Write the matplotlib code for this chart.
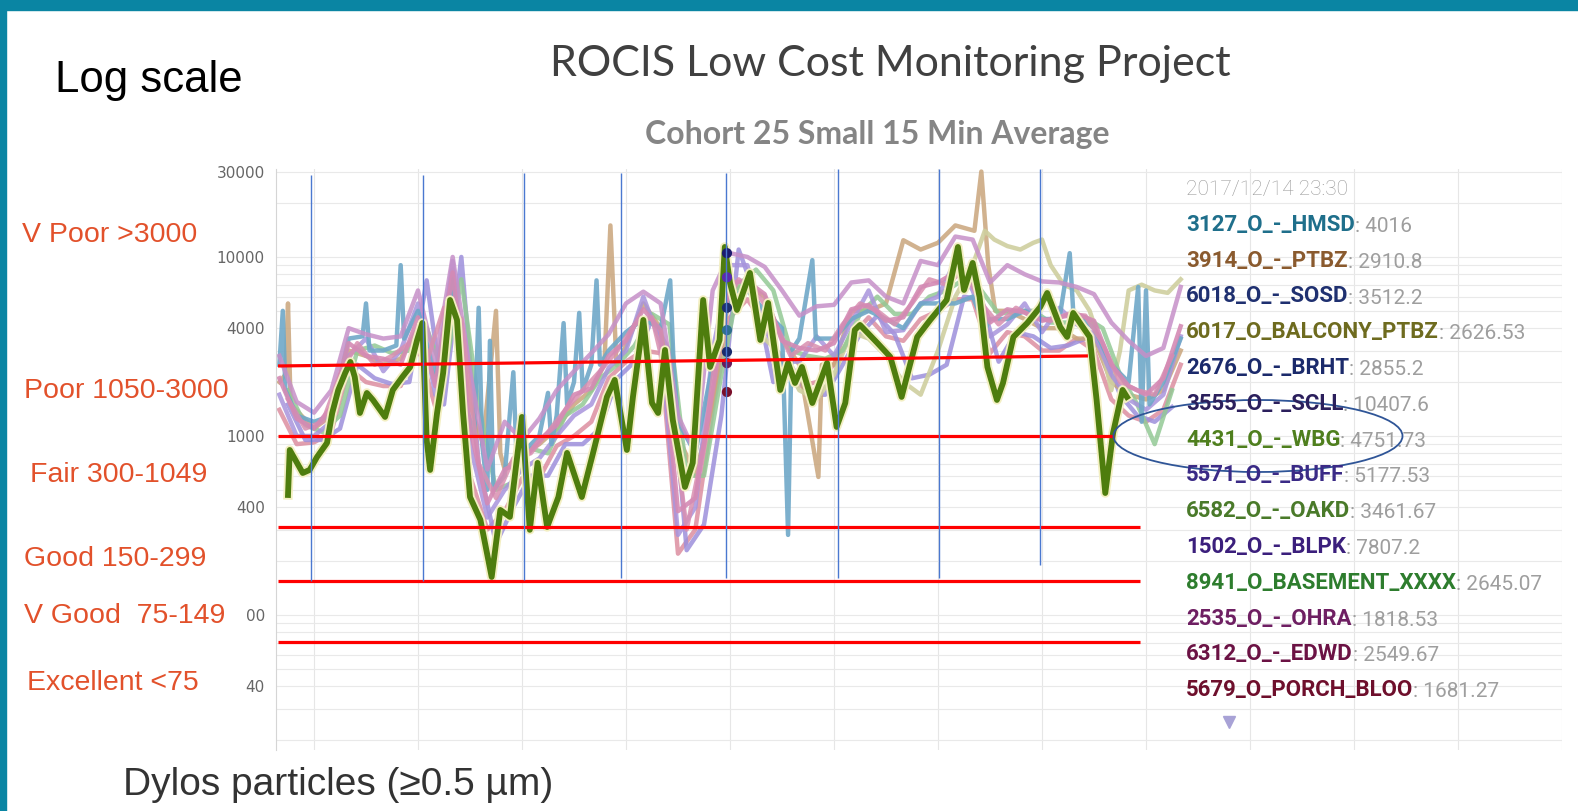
import numpy as np
import matplotlib
matplotlib.use("Agg")
import matplotlib.pyplot as plt
from matplotlib.patches import Rectangle, Ellipse
import matplotlib.patheffects as pe
from matplotlib.ticker import LogLocator, NullFormatter, FixedLocator, FixedFormatter

# ---------------- data ----------------
# hours relative to first 12-h grid line
t_even = np.arange(-4, 101, 2)
t_odd = np.arange(-3, 100, 2)

pink_a = [2100, 1250, 1100, 1450, 3300, 2800, 2700, 2500, 4600, 1900,
          8200, 1100, 420, 650, 720, 950, 1150, 1700, 1850, 2800,
          3400, 5100, 3900, 380, 450, 1800, 7200, 7300, 6200, 3400,
          3100, 3000, 3300, 5100, 5400, 4400, 4600, 6800, 7200, 8200,
          7800, 4300, 5100, 4900, 4400, 4600, 4800, 4400, 2500, 1900,
          1700, 2100, 4100]
mauve_b = [2800, 1550, 1350, 1800, 4000, 3700, 3500, 3600, 6500, 2600,
           10000, 2300, 650, 1200, 950, 1250, 1800, 2300, 2900, 3700,
           5500, 6400, 5500, 1300, 800, 6500, 10500, 10000, 8800, 6500,
           4700, 5300, 5400, 7200, 7400, 6000, 5500, 9500, 9000, 13000,
           12500, 7200, 9000, 8000, 7300, 7200, 6800, 6200, 4300, 3400,
           2800, 3100, 6800]
lav_d = [1700, 1000, 1000, 1200, 2800, 3500, 2300, 3000, 5500, 1700,
         9500, 900, 350, 500, 650, 750, 1000, 1300, 1500, 2400,
         3000, 6000, 3300, 280, 400, 3000, 9000, 9000, 4000, 2600,
         2600, 3600, 2800, 4300, 6500, 3800, 3900, 5500, 6000, 9500,
         6500, 3600, 4200, 5500, 3800, 5200, 4200, 3700, 2200, 1600,
         1400, 1700, 3600]
rose_h = [1400, 900, 920, 1050, 2400, 2000, 1900, 1900, 3200, 1450,
          6500, 600, 300, 380, 580, 580, 880, 1000, 1200, 2100,
          2600, 3000, 2900, 220, 300, 1400, 4600, 5800, 4200, 2500,
          1900, 2000, 2500, 3600, 4600, 3600, 3400, 4500, 5000, 5800,
          5800, 2900, 3800, 3600, 3000, 3000, 3500, 3000, 1600, 1300,
          1200, 1400, 2500]
# series sampled on odd hours (-3 .. 99)
purple_c = [1500, 950, 950, 1100, 2500, 2100, 1950, 2000, 7400, 1500,
            10000, 700, 250, 400, 600, 600, 900, 900, 1100, 2100,
            2600, 4500, 3000, 230, 320, 1300, 11000, 6000, 2000, 2500,
            1700, 1700, 2500, 3700, 4700, 3700, 2100, 2200, 2500, 6000,
            5800, 2600, 3800, 3600, 3100, 3200, 3500, 3100, 1700, 1300,
            1200, 1450]
green_e = [1800, 1150, 1050, 1300, 3000, 3200, 2900, 3000, 4000, 2200,
           7500, 1500, 500, 550, 850, 800, 1300, 1500, 2100, 2500,
           3200, 4800, 4200, 600, 600, 2200, 7000, 8500, 6500, 3000,
           2800, 2700, 3000, 4800, 6000, 4800, 4800, 6000, 6500, 7500,
           6500, 4800, 5000, 5000, 4300, 4300, 4600, 4000, 2200, 1500,
           900, 1800]
pink_f = [1600, 1100, 1200, 2200, 3300, 2500, 2800, 3300, 2600, 5200,
          4500, 700, 450, 750, 800, 1050, 1400, 1800, 2300, 3000,
          4200, 4600, 1800, 300, 900, 5000, 7500, 6500, 4500, 2800,
          3300, 3000, 4200, 5500, 5000, 4200, 5500, 7500, 7000, 8500,
          5500, 4200, 5200, 4600, 4400, 4800, 4700, 3300, 2000, 1800,
          1700, 2800]

teal_t = [-4, -3.6, -3.3, -2, 0, 2, 4, 5.6, 6, 6.4, 8, 9.5, 10, 10.4, 12, 14, 16,
          17.5, 18.5, 19, 19.4, 20, 20.3, 20.7, 22, 23, 23.4, 24, 26, 27, 27.4, 28,
          28.8, 29.2, 30, 30.6, 31, 32, 32.6, 33, 34, 36, 38, 40, 41.1, 41.5, 42, 44,
          46, 48, 50, 52, 54, 54.7, 55.1, 56, 57.5, 57.9, 60, 62, 64, 66, 68, 70, 72,
          74, 76, 77.5, 78, 80, 82, 84, 86, 87.2, 87.6, 90, 92, 94, 95.1, 95.5, 96.0,
          96.4, 98, 100]
teal_v = [2500, 5000, 1800, 1300, 1200, 1300, 3500, 3600, 5500, 3000, 3000, 3200,
          9000, 3500, 5000, 2200, 7500, 1500, 1000, 5200, 900, 500, 3400, 500, 600,
          2270, 700, 800, 1000, 1740, 900, 1300, 4270, 1500, 2000, 4870, 1800, 2500,
          7400, 2500, 3000, 3800, 4500, 4000, 7400, 2500, 1200, 800, 2500, 6000, 6500,
          5000, 4000, 280, 3000, 3500, 9600, 3500, 3500, 4500, 5000, 4500, 4000, 5500,
          5500, 5500, 6000, 4000, 4500, 4500, 5000, 4500, 4500, 10500, 5000, 4000,
          2500, 2000, 6800, 1200, 6500, 1500, 2000, 3500]

tan_t = [-4, -3.3, -3.0, -2.7, 0, 2, 4, 6, 8, 10, 12, 14, 16, 18, 19.5, 21.0, 21.5,
         22, 24, 26, 28, 30, 32, 33.5, 34.2, 34.9, 36, 38, 40, 42, 44, 46, 48, 50,
         52, 54, 56, 58.2, 58.6, 60, 62, 64, 66, 68, 70, 72, 74, 76.2, 77.0, 77.8,
         78.6, 80, 82, 84, 86, 88, 90, 92, 94, 96, 98, 100]
tan_v = [2000, 2200, 5500, 1500, 1100, 1300, 3000, 2800, 2500, 2700, 4000, 2000,
         8500, 1500, 900, 5000, 800, 650, 800, 900, 1100, 1500, 1800, 2500, 15000,
         2500, 3200, 5500, 4000, 1000, 600, 1500, 6500, 7000, 6000, 3500, 2500, 590,
         2500, 2500, 5000, 5000, 5500, 12400, 11000, 12000, 15000, 14000, 30000,
         9000, 5000, 5000, 4500, 4000, 4000, 3500, 3500, 2000, 1700, 1600, 1800, 3000]

olive_t = [52, 54, 56, 58, 60, 62, 64, 66, 68, 70, 72, 74, 76, 77.4, 78.5, 80, 81.5,
           83, 84, 85, 86.5, 88, 89.5, 91, 92, 93, 94, 95.5, 97, 98.5, 100]
olive_v = [3500, 2800, 1800, 1600, 2200, 3800, 3500, 2800, 2000, 1700, 3000, 6000,
           9000, 14000, 12500, 11500, 11000, 12000, 12500, 9000, 7000, 6500, 5000,
           3000, 1800, 3000, 6500, 7000, 6500, 6300, 7500]

wbg_t = [-3.0, -2.8, -1.3, -0.5, 0.35, 1.5, 2.1, 2.8, 3.6, 4.2, 4.7, 5.3, 6.1, 6.8,
         8.2, 9.1, 10.2, 11.1, 11.9, 12.5, 13.0, 13.4, 14.2, 14.9, 15.7, 16.5, 17.2,
         18.0, 19.2, 20.5, 21.5, 22.6, 24.0, 24.9, 25.8, 26.9, 28.2, 29.2, 30.9, 32.2,
         33.8, 34.7, 36.1, 36.8, 38.0, 39.0, 39.7, 40.5, 41.4, 42.8, 43.7, 44.9, 45.7,
         46.8, 47.4, 48.0, 48.8, 50.3, 51.5, 52.4, 53.8, 54.7, 55.5, 56.3, 57.5, 59.2,
         60.3, 61.3, 62.4, 63.0, 65.0, 66.5, 67.8, 69.6, 71.1, 73.0, 74.3, 75.0, 76.0,
         76.8, 77.7, 78.8, 79.5, 80.7, 82.3, 83.8, 84.6, 86.1, 86.9, 87.6, 88.7, 89.5,
         90.3, 91.3, 92.2, 93.3, 93.8]
wbg_v = [468, 835, 621, 646, 763, 914, 1344, 1807, 2249, 2590, 2137, 1344, 1738, 1589,
         1277, 1807, 2137, 2428, 3437, 4277, 950, 646, 1344, 2249, 5750, 4446, 1344,
         456, 340, 163, 386, 353, 1277, 299, 707, 310, 456, 804, 456, 804, 1652, 2056,
         835, 1652, 4446, 1528, 1344, 3022, 1228, 519, 707, 5750, 2428, 3437, 11370,
         7157, 5058, 8140, 3437, 5534, 1807, 2557, 1977, 2428, 1528, 2557, 1123, 1528,
         3910, 4170, 3308, 2762, 1652, 3573, 4446, 5750, 11370, 6540, 9260, 5977, 2428,
         1589, 1977, 3573, 4277, 5257, 6290, 4063, 3573, 4866, 4063, 3573, 1589, 480,
         1039, 1807, 1652]

# hover markers
hover_t = [47.65] * 7
hover_v = [10500, 7700, 5200, 3900, 2950, 2550, 1760]
hover_c = ['#1b1b6e', '#5a2ab0', '#1f2f70', '#2f6f8f', '#1a2a6c', '#6a1b5a', '#7a0f2a']
pointer_t = [105.6]
pointer_v = [25.2]

# annotations: air-quality thresholds (red) and day markers (blue)
red_t0 = [-4.15, -4.15, -4.15, -4.15, -4.15]
red_t1 = [89.3, 92.3, 95.3, 95.3, 95.3]
red_v0 = [2460, 1000, 311, 155, 70.4]
red_v1 = [2800, 1000, 311, 155, 70.4]
day_marks = [-0.38, 12.6, 24.2, 35.4, 47.5, 60.5, 72.1, 83.8]
day_top = [28700, 28700, 29500, 29500, 29500, 31000, 31000, 31000]
day_bot = [155, 155, 157, 160, 160, 160, 160, 190]

yticks = [40, 100, 400, 1000, 4000, 10000, 30000]
ytick_labels = ['40', '00', '400', '1000', '4000', '10000', '30000']

band_labels = ['V Poor >3000', 'Poor 1050-3000', 'Fair 300-1049',
               'Good 150-299', 'V Good  75-149', 'Excellent <75']

legend_date = '2017/12/14 23:30'
legend_names = ['3127_O_-_HMSD', '3914_O_-_PTBZ', '6018_O_-_SOSD',
                '6017_O_BALCONY_PTBZ', '2676_O_-_BRHT', '3555_O_-_SCLL',
                '4431_O_-_WBG', '5571_O_-_BUFF', '6582_O_-_OAKD', '1502_O_-_BLPK',
                '8941_O_BASEMENT_XXXX', '2535_O_-_OHRA', '6312_O_-_EDWD',
                '5679_O_PORCH_BLOO']
legend_values = ['4016', '2910.8', '3512.2', '2626.53', '2855.2', '10407.6',
                 '4751.73', '5177.53', '3461.67', '7807.2', '2645.07', '1818.53',
                 '2549.67', '1681.27']
legend_colors = ['#1f6f8b', '#8a5a2e', '#1f3070', '#6e6b1f', '#1b2a6b', '#2b1f5c',
                 '#4f7f1e', '#3a2a86', '#4a7a2a', '#3b1f7c', '#2e7d2e', '#6e1f62',
                 '#6b1244', '#6e0f2c']

# ---------------- figure ----------------
W, H = 1578, 811
fig = plt.figure(figsize=(W / 100, H / 100), dpi=100)
fig.patch.set_facecolor('white')


def fx(px):
    return px / W


def fy(py):
    return 1 - py / H


def base(center_py, fs, cap=0.72):
    return center_py + 0.5 * cap * fs * 100 / 72


ax = fig.add_axes([fx(276), fy(750), fx(1562) - fx(276), fy(169) - fy(750)])
ax.set_yscale('log')
ax.set_xlim(-4.385, 144)
ax.set_ylim(17.6, 31000)

ax.yaxis.set_major_locator(FixedLocator(yticks))
ax.yaxis.set_major_formatter(FixedFormatter(ytick_labels))
ax.yaxis.set_minor_locator(LogLocator(base=10, subs=range(1, 10), numticks=20))
ax.yaxis.set_minor_formatter(NullFormatter())
ax.set_xticks(np.arange(0, 145, 12))
ax.set_xticklabels([])
ax.tick_params(axis='both', which='both', length=0)
ax.tick_params(axis='y', labelsize=11, labelcolor='#666666', pad=8)
ax.grid(True, axis='y', which='both', color='#e9e9e9', lw=0.8)
ax.grid(True, axis='x', which='major', color='#e6e6e6', lw=0.8)
ax.set_axisbelow(True)
for s in ['top', 'right', 'bottom']:
    ax.spines[s].set_visible(False)
ax.spines['left'].set_color('#d5d5d5')

bg_lw = 3.2
ax.plot(t_even, rose_h, color='#dc8ea0', lw=bg_lw, alpha=0.85)
ax.plot(t_odd, purple_c, color='#9d8fdb', lw=bg_lw, alpha=0.85)
ax.plot(tan_t, tan_v, color='#c9a57c', lw=bg_lw, alpha=0.85)
ax.plot(olive_t, olive_v, color='#cfcf9f', lw=bg_lw, alpha=0.9)
ax.plot(t_odd, green_e, color='#93c995', lw=bg_lw, alpha=0.85)
ax.plot(t_even, lav_d, color='#a894dc', lw=bg_lw, alpha=0.85)
ax.plot(teal_t, teal_v, color='#6fa8c8', lw=bg_lw, alpha=0.9)
ax.plot(t_even, mauve_b, color='#c690c8', lw=bg_lw, alpha=0.85)
ax.plot(t_odd, pink_f, color='#d98fb0', lw=bg_lw, alpha=0.85)
ax.plot(t_even, pink_a, color='#d48ab4', lw=bg_lw, alpha=0.9)

ax.plot(wbg_t, wbg_v, color='#4e7d0e', lw=4.2, zorder=5,
        path_effects=[pe.Stroke(linewidth=6.8, foreground='#f3efc2'), pe.Normal()])

ax.scatter(hover_t, hover_v, c=hover_c, s=40, zorder=7)
ax.plot(pointer_t, pointer_v, marker='v', color='#a8a2d6', ms=9, ls='none',
        clip_on=False, zorder=7)

for t0, t1, v0, v1 in zip(red_t0, red_t1, red_v0, red_v1):
    ax.plot([t0, t1], [v0, v1], color='#ff0000', lw=2.3, zorder=8,
            solid_capstyle='butt')
ax.vlines(day_marks, day_bot, day_top, color='#4a78d0', lw=1.0, zorder=8)

# ---------------- texts ----------------
fig.text(fx(55), fy(92), 'Log scale', fontsize=31.5, family='Liberation Sans',
         color='black', va='baseline')
fig.text(fx(890), fy(76), 'ROCIS Low Cost Monitoring Project', fontsize=31,
         family='Lato', fontweight='normal', color='#404040', ha='center',
         va='baseline')
fig.text(fx(877), fy(144), 'Cohort 25 Small 15 Min Average', fontsize=23,
         family='Lato', fontweight='bold', color='#858585', ha='center',
         va='baseline')
fig.text(fx(123), fy(795), 'Dylos particles (\u22650.5 \u00b5m)', fontsize=28,
         family='Liberation Sans', color='#333333', va='baseline')

band_x = [22, 24, 30, 24, 24, 27]
band_y = [232, 388, 472, 556, 613, 680]
for lab, px, py in zip(band_labels, band_x, band_y):
    fig.text(fx(px), fy(base(py, 20.5)), lab, fontsize=20.5,
             family='Liberation Sans', color='#e2512b', va='baseline')

# legend (tooltip)
leg_x = 1186
fig.text(fx(leg_x), fy(base(188, 15)), legend_date, fontsize=15, family='Roboto',
         fontweight='light', color='#9a9a9a', va='baseline')
for i, (nm, val, col) in enumerate(zip(legend_names, legend_values, legend_colors)):
    cy = 223 + 35.8 * i
    tx = fig.text(fx(leg_x), fy(base(cy, 16, 0.711)), nm, fontsize=16,
                  family='Roboto', fontweight='bold', color=col, va='baseline')
    ax.annotate(': ' + val, xy=(1, 0), xycoords=tx, fontsize=15, family='Roboto',
                fontweight='normal', color='#9e9e9e', va='bottom', ha='left',
                annotation_clip=False)

fig.add_artist(Ellipse((fx(1258), fy(436)), 289 / W, 72 / H, transform=fig.transFigure,
                       fill=False, edgecolor='#2f5597', lw=1.3))

# slide frame
fig.add_artist(Rectangle((0, fy(10)), 1, 10 / H, transform=fig.transFigure,
                         color='#0a85a3', zorder=10))
fig.add_artist(Rectangle((0, 0), 6 / W, 1, transform=fig.transFigure,
                         color='#0a85a3', zorder=10))

fig.savefig('out.png', dpi=100, facecolor='white')
